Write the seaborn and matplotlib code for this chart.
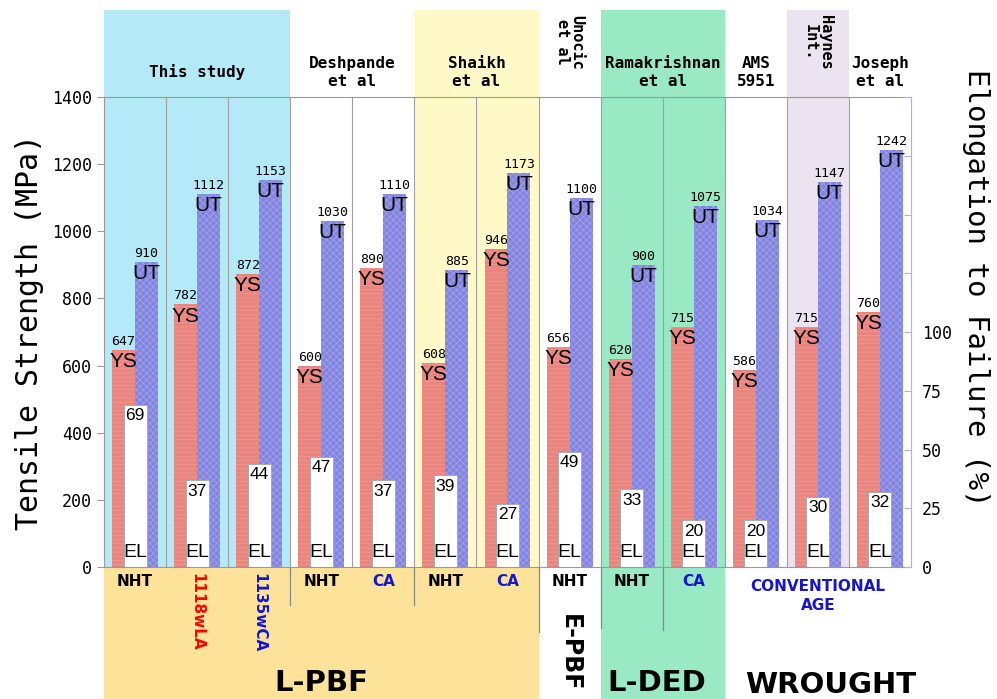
import matplotlib
matplotlib.use('Agg')
import matplotlib.pyplot as plt
import matplotlib.transforms as mtransforms
import pandas as pd
import seaborn as sns

# one column per condition, left to right
conditions = ['This NHT', '1118wLA', '1135wCA', 'Desh NHT', 'Desh CA', 'Shaikh NHT', 'Shaikh CA',
              'Unocic NHT', 'Rama NHT', 'Rama CA', 'AMS 5951', 'Haynes', 'Joseph']
ys = [647, 782, 872, 600, 890, 608, 946, 656, 620, 715, 586, 715, 760]
ut = [910, 1112, 1153, 1030, 1110, 885, 1173, 1100, 900, 1075, 1034, 1147, 1242]
el = [69, 37, 44, 47, 37, 39, 27, 49, 33, 20, 20, 30, 32]

# study headers: (text, first col, last col, colour, rotated)
studies = [('This study', 0, 2, '#b4e9f8', False),
           ('Deshpande\net al', 3, 4, None, False),
           ('Shaikh\net al', 5, 6, '#fef9c6', False),
           ('Unocic\net al', 7, 7, None, True),
           ('Ramakrishnan\net al', 8, 9, '#99e9c4', False),
           ('AMS\n5951', 10, 10, None, False),
           ('Haynes\nInt.', 11, 11, '#ebe3ef', True),
           ('Joseph\net al', 12, 12, None, False)]

sub_labels = ['NHT', '1118wLA', '1135wCA', 'NHT', 'CA', 'NHT', 'CA', 'NHT', 'NHT', 'CA']
sub_colors = ['black', 'red', '#1414d2', 'black', '#1414d2', 'black', '#1414d2', 'black', 'black', '#1414d2']

df = pd.DataFrame({'cond': conditions * 2,
                   'val': ys + ut,
                   'kind': ['YS'] * len(ys) + ['UT'] * len(ut)})
df_el = pd.DataFrame({'cond': conditions, 'el': el})

plt.rcParams['hatch.linewidth'] = 0.5
mono = 'DejaVu Sans Mono'

fig = plt.figure(figsize=(9.97, 6.99), dpi=100)
ax = fig.add_axes([0.1043, 0.1888, 0.8094, 0.6724])

sns.barplot(data=df, x='cond', y='val', hue='kind', order=conditions,
            palette={'YS': '#f9766e', 'UT': '#7374ea'}, width=0.74, dodge=True,
            legend=False, ax=ax, zorder=2)
for bar in ax.containers[0]:
    bar.set_hatch('----')
    bar.set_edgecolor('#f89891')
    bar.set_linewidth(0)
for bar in ax.containers[1]:
    bar.set_hatch('xxxxx')
    bar.set_edgecolor('#a4a5f4')
    bar.set_linewidth(0)

ax.set_xlim(-0.5, 12.5)
ax.set_ylim(0, 1400)
ax.set_xticks([])
ax.set_xlabel('')
ax.set_yticks(range(0, 1401, 200))
ax.tick_params(axis='y', labelsize=12, colors='#999999', labelcolor='black', length=5)
for lab in ax.get_yticklabels():
    lab.set_family(mono)
ax.set_ylabel('Tensile Strength (MPa)', fontsize=21.5, family=mono, labelpad=6)
for s in ['top', 'bottom', 'left']:
    ax.spines[s].set_color('#999999')
ax.spines['right'].set_visible(False)

trans = mtransforms.blended_transform_factory(ax.transData, ax.transAxes)

# backgrounds
for name, a, b, colour, rot in studies:
    if colour:
        ax.axvspan(a - 0.5, b + 0.5, ymin=0, ymax=1.185, color=colour, zorder=0, clip_on=False, lw=0)
ax.axvspan(-0.5, 6.5, ymin=-0.3, ymax=0, color='#fde39a', zorder=0, clip_on=False, lw=0)
ax.axvspan(7.5, 9.5, ymin=-0.3, ymax=0, color='#99e9c4', zorder=0, clip_on=False, lw=0)

# column separators
ax.vlines([k + 0.5 for k in range(12)], 0, 1400, color='#a0a0a0', lw=0.8, zorder=1)
for xb, depth in [(2.5, -0.081), (4.5, -0.081), (6.5, -0.138), (7.5, -0.13), (8.5, -0.134)]:
    ax.plot([xb, xb], [0, depth], transform=trans, color='#888888', lw=0.9, clip_on=False)

# header text
for name, a, b, colour, rot in studies:
    xc = (a + b) / 2
    if rot:
        ax.text(xc, 1.175, name, transform=trans, rotation=-90, ha='center', va='top',
                fontsize=11, fontweight='bold', family=mono, linespacing=1.0)
    else:
        ax.text(xc, 1.053, name, transform=trans, ha='center', va='center',
                fontsize=11.5, fontweight='bold', family=mono, linespacing=1.25)

# sub labels below axis
for i, (lab, c) in enumerate(zip(sub_labels, sub_colors)):
    if lab in ('1118wLA', '1135wCA'):
        ax.text(i, -0.012, lab, transform=trans, rotation=-90, ha='center', va='top',
                fontsize=11, fontweight='bold', color=c)
    else:
        ax.text(i, -0.03, lab, transform=trans, ha='center', va='center',
                fontsize=11, fontweight='bold', color=c)
ax.text(11, -0.062, 'CONVENTIONAL\nAGE', transform=trans, ha='center', va='center',
        fontsize=11, fontweight='bold', color='#1414d2', linespacing=1.35)

ax.text(3, -0.247, 'L-PBF', transform=trans, ha='center', va='center', fontsize=21, fontweight='bold')
ax.text(7, -0.1, 'E-PBF', transform=trans, rotation=-90, ha='center', va='top', fontsize=17, fontweight='bold')
ax.text(8.4, -0.247, 'L-DED', transform=trans, ha='center', va='center', fontsize=21, fontweight='bold')
ax.text(11.2, -0.25, 'WROUGHT', transform=trans, ha='center', va='center', fontsize=21, fontweight='bold')

# bar labels
for i in range(len(conditions)):
    ax.text(i - 0.185, ys[i] + 6, str(ys[i]), ha='center', va='bottom', fontsize=9.5, family=mono, zorder=5)
    ax.text(i - 0.185, ys[i] - 6, 'YS', ha='center', va='top', fontsize=15, family='Liberation Sans', zorder=5)
    ax.text(i + 0.185, ut[i] + 6, str(ut[i]), ha='center', va='bottom', fontsize=9.5, family=mono, zorder=5)
    ax.text(i + 0.185, ut[i] - 6, 'UT', ha='center', va='top', fontsize=15, family='Liberation Sans', zorder=5)

# elongation on the right axis
ax2 = ax.twinx()
sns.barplot(data=df_el, x='cond', y='el', order=conditions, color='white', width=0.37,
            edgecolor='#aaaaaa', linewidth=0.7, ax=ax2, zorder=3)
ax2.set_xlim(-0.5, 12.5)
ax2.set_ylim(0, 200)
ax2.set_xlabel('')
ax2.set_ylabel('')
ax2.set_xticks([])
ax2.set_yticks(range(0, 201, 25))
ax2.set_yticklabels(['0', '25', '50', '75', '100', '', '', '', ''], family=mono)
ax2.tick_params(axis='y', direction='in', labelsize=12, colors='#a8b4d8', labelcolor='black', length=5, pad=8)
for s in ['top', 'bottom', 'left']:
    ax2.spines[s].set_visible(False)
ax2.spines['right'].set_color('#a8b4d8')
fig.text(0.979, 1 - 288 / 699, 'Elongation to Failure (%)', fontsize=21, family=mono,
         rotation=-90, ha='center', va='center')
for i in range(len(conditions)):
    ax2.text(i, el[i] - 1.5, str(el[i]), ha='center', va='top', fontsize=12.5, family='Liberation Sans', zorder=5)
    ax2.text(i, 2.5, 'EL', ha='center', va='bottom', fontsize=14, family='Liberation Sans', zorder=5)

fig.savefig('out.png', dpi=100)
